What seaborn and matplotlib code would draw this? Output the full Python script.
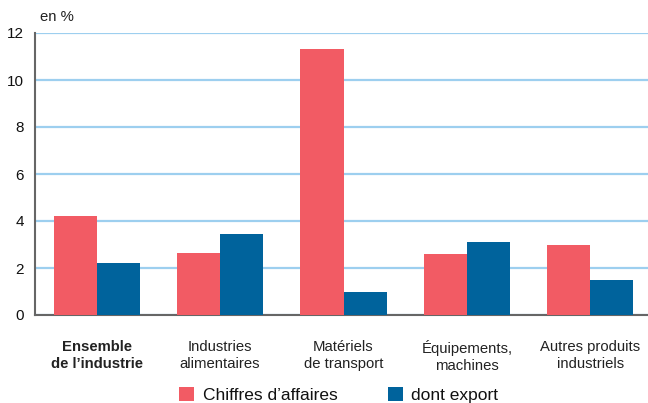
import matplotlib
matplotlib.use("Agg")
import matplotlib.pyplot as plt
import seaborn as sns
import pandas as pd
from matplotlib.patches import Patch

categories = ["Ensemble\nde l\u2019industrie", "Industries\nalimentaires", "Mat\u00e9riels\nde transport",
              "\u00c9quipements,\nmachines", "Autres produits\nindustriels"]
chiffres = [4.2, 2.65, 11.3, 2.6, 3.0]
export = [2.2, 3.45, 1.0, 3.1, 1.5]
series = ["Chiffres d\u2019affaires", "dont export"]
colors = ["#F25B64", "#00639C"]

sns.set_theme(style="white")
plt.rcParams["font.family"] = ["Liberation Sans", "DejaVu Sans"]

df = pd.DataFrame({
    "cat": categories * 2,
    "serie": [series[0]] * 5 + [series[1]] * 5,
    "val": chiffres + export,
})

fig = plt.figure(figsize=(6.48, 4.03), dpi=100)
ax = fig.add_axes([35/648, 1-315/403, (648-35)/648, (315-33)/403])

sns.barplot(data=df, x="cat", y="val", hue="serie", palette=colors, width=0.7,
            saturation=1, ax=ax, legend=False, zorder=3, linewidth=0, edgecolor="none")

ax.set_xlim(-0.5, -0.5 + 613/123.4)
ax.set_ylim(0, 12)
ax.set_yticks([0, 2, 4, 6, 8, 10, 12])
ax.yaxis.grid(True, color="#9DCFEF", linewidth=1.6, zorder=0)
ax.set_axisbelow(True)
for s in ["top", "right"]:
    ax.spines[s].set_visible(False)
for s in ["left", "bottom"]:
    ax.spines[s].set_color("#666666")
    ax.spines[s].set_linewidth(1.5)
ax.tick_params(axis="y", length=6, width=1.5, color="#222222", labelsize=11, pad=2, labelcolor="#111111")
ax.set_xticks(range(5))
ax.set_xticklabels(categories, fontsize=10.7, color="#222222", linespacing=1.25)
ax.tick_params(axis="x", length=0, pad=18)
ax.get_xticklabels()[0].set_fontweight("bold")
ax.set_xticks([-0.5, 0.5, 1.5, 2.5, 3.5], minor=True)
ax.tick_params(axis="x", which="minor", length=8.5, width=1.5, color="#222222", direction="out")
ax.set_xlabel("")
ax.set_ylabel("")

fig.text(40/648, 1-17/403, "en %", fontsize=10.7, color="#222222", va="center", ha="left")

handles = [Patch(facecolor=c, edgecolor="none") for c in colors]
fig.legend(handles, series, loc="center left", bbox_to_anchor=(179/648, 1-395/403), ncol=2, frameon=False,
           fontsize=12.5, handlelength=0.86, handleheight=0.86, handletextpad=0.5, columnspacing=2.9,
           borderpad=0, borderaxespad=0, labelcolor="#111111")

fig.savefig("out.png", dpi=100)
